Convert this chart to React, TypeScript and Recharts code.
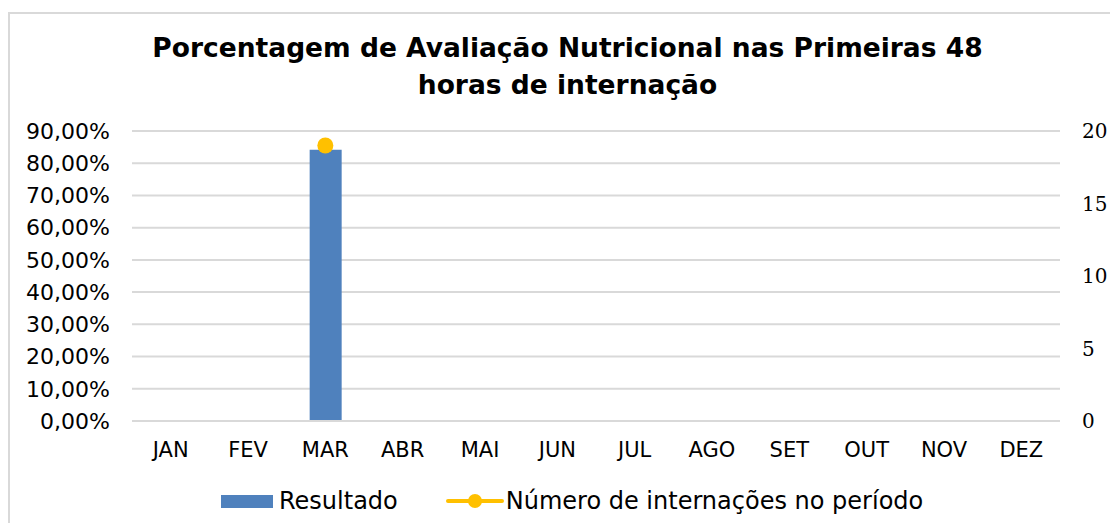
import React from 'react';
import { ComposedChart, Bar, Line, XAxis, YAxis, CartesianGrid } from 'recharts';

const months = ['JAN', 'FEV', 'MAR', 'ABR', 'MAI', 'JUN', 'JUL', 'AGO', 'SET', 'OUT', 'NOV', 'DEZ'];
const resultado: (number | null)[] = [null, null, 84.21, null, null, null, null, null, null, null, null, null];
const internacoes: (number | null)[] = [null, null, 19, null, null, null, null, null, null, null, null, null];
const percentTicks = [0, 10, 20, 30, 40, 50, 60, 70, 80, 90];
const countTicks = [0, 5, 10, 15, 20];

const data = months.map((m, i) => ({ month: m, resultado: resultado[i], internacoes: internacoes[i] }));

const sans = '"DejaVu Sans", Verdana, sans-serif';
const serif = '"DejaVu Serif", serif';
const BLUE = '#4f81bd';
const GOLD = '#ffc000';

const fmtPct = (v: number) => v.toFixed(2).replace('.', ',') + '%';

export default function App() {
  return (
    <div style={{ position: 'relative', width: 1118, height: 531, margin: -8, overflow: 'hidden', background: '#fff', fontFamily: sans }}>
      <div
        style={{
          position: 'absolute',
          left: 8,
          top: 12,
          width: 1130,
          height: 540,
          border: '2px solid #d9d9d9',
        }}
      />
      <div
        style={{
          position: 'absolute',
          left: 0,
          width: 1135,
          top: 29,
          textAlign: 'center',
          fontWeight: 'bold',
          fontSize: 26.5,
          lineHeight: '37px',
          color: '#000',
        }}
      >
        Porcentagem de Avaliação Nutricional nas Primeiras 48
        <br />
        horas de internação
      </div>

      <div style={{ position: 'absolute', left: 0, top: 0 }}>
        <ComposedChart
          width={1118}
          height={531}
          data={data}
          margin={{ top: 131, right: 8, bottom: 50, left: 12 }}
        >
          <CartesianGrid vertical={false} yAxisId="pct" stroke="#d9d9d9" strokeWidth={2} />
          <XAxis
            dataKey="month"
            height={60}
            axisLine={{ stroke: '#d9d9d9', strokeWidth: 2 }}
            tickLine={false}
            tickSize={0}
            tickMargin={21}
            tick={{ fontSize: 21, fill: '#000', fontFamily: sans }}
            interval={0}
          />
          <YAxis
            yAxisId="pct"
            orientation="left"
            width={120}
            domain={[0, 90]}
            ticks={percentTicks}
            tickFormatter={fmtPct}
            axisLine={false}
            tickLine={false}
            tickSize={0}
            tickMargin={22}
            tick={{ fontSize: 22, fill: '#000', fontFamily: sans }}
          />
          <YAxis
            yAxisId="cnt"
            orientation="right"
            width={50}
            domain={[0, 20]}
            ticks={countTicks}
            axisLine={false}
            tickLine={false}
            tickSize={0}
            tickMargin={22}
            tick={{ fontSize: 20, fill: '#000', fontFamily: serif }}
          />
          <Bar yAxisId="pct" dataKey="resultado" fill={BLUE} barSize={32} isAnimationActive={false} />
          <Line
            yAxisId="cnt"
            dataKey="internacoes"
            stroke={GOLD}
            strokeWidth={4}
            dot={{ r: 8, fill: GOLD, stroke: 'none' }}
            isAnimationActive={false}
          />
        </ComposedChart>
      </div>

      <div style={{ position: 'absolute', top: 486, left: 221, display: 'flex', alignItems: 'center', fontSize: 24, color: '#000', height: 30 }}>
        <svg width={58} height={30}>
          <rect x={0} y={9} width={52} height={13} fill={BLUE} />
        </svg>
        <span style={{ marginRight: 48 }}>Resultado</span>
        <svg width={60} height={30}>
          <line x1={2} x2={56} y1={15} y2={15} stroke={GOLD} strokeWidth={4} strokeLinecap="round" />
          <circle cx={29} cy={15} r={7} fill={GOLD} />
        </svg>
        <span>Número de internações no período</span>
      </div>
    </div>
  );
}
